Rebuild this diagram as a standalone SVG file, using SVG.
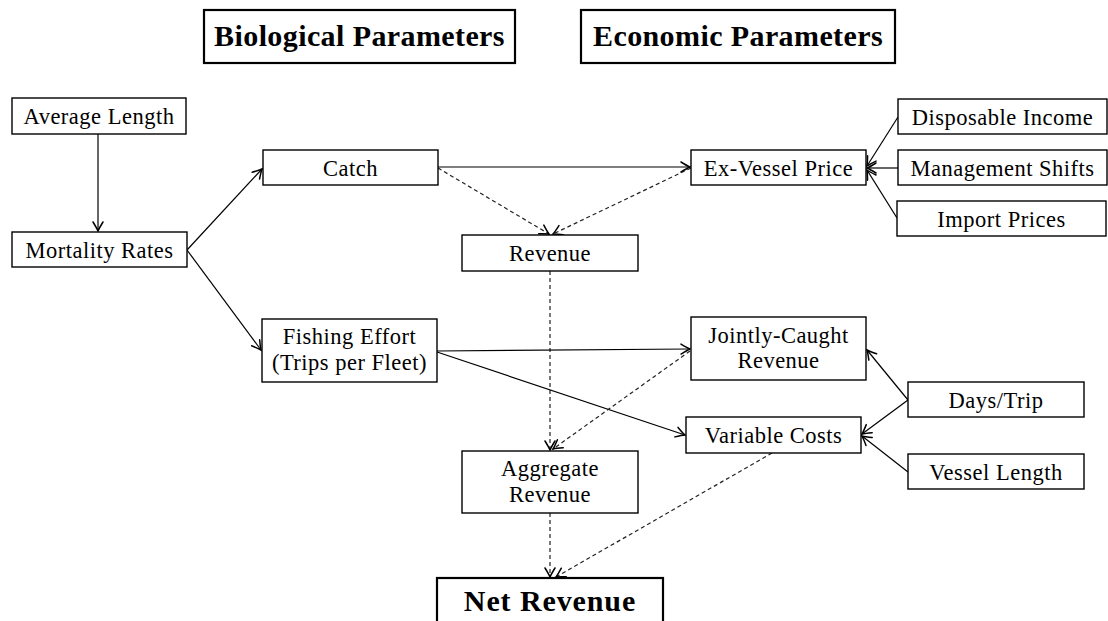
<svg xmlns="http://www.w3.org/2000/svg" width="1108" height="621" viewBox="0 0 1108 621">
<style>
  .box{fill:#fff;stroke:#000;stroke-width:1.4}
  .tbox{fill:#fff;stroke:#000;stroke-width:2.2}
  .t{font-family:"Liberation Serif","Times New Roman",serif;font-size:22.5px;letter-spacing:0.5px;fill:#000;text-anchor:middle}
  .tb{font-family:"Liberation Serif","Times New Roman",serif;font-size:30px;letter-spacing:0.4px;font-weight:bold;fill:#000;text-anchor:middle}
  .tn{letter-spacing:0.9px}
  .c{fill:none;stroke:#000;stroke-width:1.2}
  .d{fill:none;stroke:#222;stroke-width:1.2;stroke-dasharray:4 3}
</style>
<defs>
  <marker id="ar" markerUnits="userSpaceOnUse" markerWidth="14" markerHeight="12" viewBox="-10 -6 12 12" refX="0" refY="0" orient="auto" overflow="visible">
    <path d="M-9,-5 Q-3,-1.3 0,0 Q-3,1.3 -9,5" fill="none" stroke="#000" stroke-width="1.5" stroke-linecap="round"/>
  </marker>
</defs>
<rect width="1108" height="621" fill="#fff"/>

<g id="connectors">
  <line class="c" x1="98" y1="134" x2="98" y2="231" marker-end="url(#ar)"/>
  <line class="c" x1="187" y1="250" x2="262" y2="169" marker-end="url(#ar)"/>
  <line class="c" x1="187" y1="250" x2="261" y2="350" marker-end="url(#ar)"/>
  <line class="c" x1="438" y1="167" x2="690" y2="167" marker-end="url(#ar)"/>
  <line class="d" x1="438" y1="168" x2="549" y2="234" marker-end="url(#ar)"/>
  <line class="d" x1="691" y1="168" x2="553" y2="234" marker-end="url(#ar)"/>
  <line class="c" x1="898" y1="117" x2="867" y2="166" marker-end="url(#ar)"/>
  <line class="c" x1="898" y1="168" x2="867" y2="168" marker-end="url(#ar)"/>
  <line class="c" x1="897" y1="218" x2="867" y2="170" marker-end="url(#ar)"/>
  <line class="d" x1="550" y1="271" x2="550" y2="450" marker-end="url(#ar)"/>
  <line class="c" x1="437" y1="351" x2="690" y2="349" marker-end="url(#ar)"/>
  <line class="c" x1="437" y1="352" x2="685" y2="435" marker-end="url(#ar)"/>
  <line class="d" x1="690" y1="351" x2="553" y2="449" marker-end="url(#ar)"/>
  <line class="c" x1="908" y1="400" x2="867" y2="350" marker-end="url(#ar)"/>
  <line class="c" x1="908" y1="400" x2="862" y2="434" marker-end="url(#ar)"/>
  <line class="c" x1="908" y1="472" x2="862" y2="436" marker-end="url(#ar)"/>
  <line class="d" x1="772" y1="453" x2="556" y2="577" marker-end="url(#ar)"/>
  <line class="d" x1="550" y1="513" x2="550" y2="577" marker-end="url(#ar)"/>
</g>

<g id="bio-title">
  <rect class="tbox" x="204" y="10" width="311" height="53"/>
  <text class="tb" x="359.5" y="46">Biological Parameters</text>
</g>
<g id="eco-title">
  <rect class="tbox" x="581" y="10" width="314" height="53"/>
  <text class="tb" x="738" y="46">Economic Parameters</text>
</g>

<g id="average-length">
  <rect class="box" x="12" y="98" width="174" height="36"/>
  <text class="t" x="99" y="123.5">Average Length</text>
</g>
<g id="mortality-rates">
  <rect class="box" x="12" y="232" width="175" height="35"/>
  <text class="t" x="99.5" y="257.5">Mortality Rates</text>
</g>
<g id="catch">
  <rect class="box" x="263" y="150" width="175" height="35"/>
  <text class="t" x="350.5" y="175.5">Catch</text>
</g>
<g id="ex-vessel-price">
  <rect class="box" x="691" y="150" width="175" height="35"/>
  <text class="t" x="778.5" y="175.5">Ex-Vessel Price</text>
</g>
<g id="disposable-income">
  <rect class="box" x="898" y="99" width="209" height="35"/>
  <text class="t" x="1002.5" y="124.5">Disposable Income</text>
</g>
<g id="management-shifts">
  <rect class="box" x="898" y="150" width="209" height="35"/>
  <text class="t" x="1002.5" y="175.5">Management Shifts</text>
</g>
<g id="import-prices">
  <rect class="box" x="897" y="201" width="209" height="35"/>
  <text class="t" x="1001.5" y="226.5">Import Prices</text>
</g>
<g id="revenue">
  <rect class="box" x="462" y="235" width="176" height="36"/>
  <text class="t" x="550" y="260.5">Revenue</text>
</g>
<g id="fishing-effort">
  <rect class="box" x="262" y="319" width="175" height="63"/>
  <text class="t" x="349.5" y="344">Fishing Effort</text>
  <text class="t" x="349.5" y="370">(Trips per Fleet)</text>
</g>
<g id="jointly-caught-revenue">
  <rect class="box" x="691" y="317" width="175" height="63"/>
  <text class="t" x="778.5" y="343">Jointly-Caught</text>
  <text class="t" x="778.5" y="368">Revenue</text>
</g>
<g id="variable-costs">
  <rect class="box" x="686" y="417" width="175" height="36"/>
  <text class="t" x="773.5" y="442.5">Variable Costs</text>
</g>
<g id="days-trip">
  <rect class="box" x="908" y="382" width="176" height="35"/>
  <text class="t" x="996" y="407.5">Days/Trip</text>
</g>
<g id="vessel-length">
  <rect class="box" x="908" y="454" width="176" height="35"/>
  <text class="t" x="996" y="479.5">Vessel Length</text>
</g>
<g id="aggregate-revenue">
  <rect class="box" x="462" y="451" width="176" height="62"/>
  <text class="t" x="550" y="476">Aggregate</text>
  <text class="t" x="550" y="502">Revenue</text>
</g>
<g id="net-revenue">
  <rect class="tbox" x="437" y="578" width="226" height="60"/>
  <text class="tb tn" x="550" y="611">Net Revenue</text>
</g>
</svg>
